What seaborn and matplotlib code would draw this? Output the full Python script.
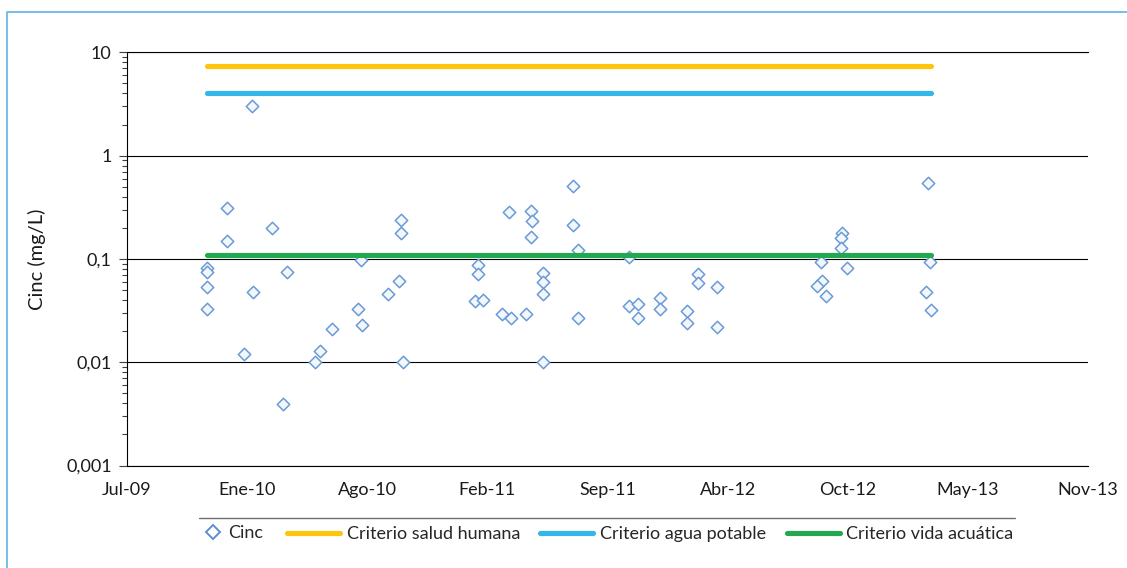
import numpy as np
import pandas as pd
import matplotlib
matplotlib.use("Agg")
import matplotlib.pyplot as plt
from matplotlib.lines import Line2D
from matplotlib.ticker import FixedLocator, FixedFormatter, LogLocator, NullFormatter
import seaborn as sns

# ---------------- data ----------------
fechas = [
    "2010-01-30", "2009-12-20", "2010-03-04", "2009-12-20", "2009-11-16", "2009-11-16",
    "2009-11-16", "2009-11-16", "2010-03-29", "2010-02-01", "2010-01-17", "2010-03-23",
    "2010-10-06", "2010-10-05", "2010-07-30", "2010-10-02", "2010-09-13", "2010-07-25",
    "2010-08-02", "2010-06-12", "2010-05-23", "2010-05-15", "2010-10-09",
    "2011-07-19", "2011-04-03", "2011-05-09", "2011-05-12", "2011-05-09", "2011-07-19",
    "2011-07-27", "2011-10-20", "2011-02-10", "2011-02-10", "2011-05-29", "2011-05-29",
    "2011-05-29", "2011-02-05", "2011-02-18", "2011-03-23", "2011-04-07", "2011-05-02",
    "2011-07-27", "2011-05-29", "2011-10-19", "2011-11-04", "2011-11-03", "2011-12-10",
    "2011-12-10", "2012-02-12", "2012-02-12", "2012-03-15", "2012-01-25", "2012-01-25",
    "2012-03-15", "2013-03-01", "2012-10-09", "2012-10-07", "2012-10-06", "2012-09-03",
    "2012-10-16", "2012-09-05", "2012-08-28", "2012-09-11", "2013-03-04", "2013-02-26",
    "2013-03-06",
]
cinc = [
    3.0, 0.31, 0.20, 0.15, 0.081, 0.074,
    0.054, 0.033, 0.074, 0.048, 0.012, 0.0039,
    0.24, 0.18, 0.097, 0.061, 0.046, 0.0325,
    0.023, 0.021, 0.0128, 0.010, 0.010,
    0.51, 0.285, 0.29, 0.233, 0.164, 0.213,
    0.121, 0.105, 0.087, 0.071, 0.073, 0.060,
    0.046, 0.0395, 0.040, 0.029, 0.027, 0.029,
    0.0266, 0.010, 0.035, 0.037, 0.0266, 0.042,
    0.033, 0.071, 0.059, 0.054, 0.031, 0.024,
    0.022, 0.54, 0.178, 0.158, 0.128, 0.093,
    0.081, 0.061, 0.055, 0.044, 0.093, 0.048,
    0.032,
]
criterio_salud_humana = 7.4
criterio_agua_potable = 4.0
criterio_vida_acuatica = 0.11

x_tick_fechas = ["2009-07-06", "2010-01-22", "2010-08-10", "2011-02-26", "2011-09-14",
                 "2012-04-01", "2012-10-18", "2013-05-06", "2013-11-22"]
x_tick_labels = ["Jul-09", "Ene-10", "Ago-10", "Feb-11", "Sep-11",
                 "Abr-12", "Oct-12", "May-13", "Nov-13"]
y_ticks = [0.001, 0.01, 0.1, 1, 10]
y_tick_labels = ["0,001", "0,01", "0,1", "1", "10"]

serie_labels = ["Cinc", "Criterio salud humana", "Criterio agua potable", "Criterio vida acuática"]
colores = {"Cinc": "#6A9BD6", "Criterio salud humana": "#FFC50A",
           "Criterio agua potable": "#33B7EA", "Criterio vida acuática": "#22A84F"}

# ---------------- figure ----------------
sns.set_theme(style="white")
plt.rcParams["font.family"] = ["Lato", "DejaVu Sans"]
FS = 13

W, H = 1127, 568
fig = plt.figure(figsize=(W / 100, H / 100), dpi=100)
L, R, T, B = 127, 1088, 52.3, 465.5
ax = fig.add_axes([L / W, 1 - B / H, (R - L) / W, (B - T) / H])

df = pd.DataFrame({"fecha": pd.to_datetime(fechas), "cinc": cinc})
sns.scatterplot(data=df, x="fecha", y="cinc", marker="D", s=40,
                color="#F3F6FB", edgecolor=colores["Cinc"], linewidth=1.1,
                ax=ax, zorder=3, legend=False)

linea_fechas = pd.Series(sorted(df["fecha"].unique()))
for nombre, valor in [("Criterio salud humana", criterio_salud_humana),
                      ("Criterio agua potable", criterio_agua_potable),
                      ("Criterio vida acuática", criterio_vida_acuatica)]:
    sns.lineplot(x=linea_fechas, y=[valor] * len(linea_fechas), estimator=None,
                 color=colores[nombre], linewidth=3.7, solid_capstyle="round",
                 ax=ax, zorder=4, legend=False)

ax.set_yscale("log")
ax.set_ylim(y_ticks[0], y_ticks[-1])
xt = pd.to_datetime(x_tick_fechas)
ax.set_xlim(xt[0], xt[-1])
ax.set_xticks(xt)
ax.set_xticklabels(x_tick_labels)
ax.yaxis.set_major_locator(FixedLocator(y_ticks))
ax.yaxis.set_major_formatter(FixedFormatter(y_tick_labels))
ax.yaxis.set_minor_locator(LogLocator(base=10, subs=np.arange(2, 10)))
ax.yaxis.set_minor_formatter(NullFormatter())

ax.set_xlabel("")
ax.set_ylabel("Cinc (mg/L)", fontsize=14.5, color="#1a1a1a")
ax.yaxis.set_label_coords(-0.084, 0.5)

ax.yaxis.grid(True, which="major", color="black", linewidth=0.8)
ax.xaxis.grid(False)
ax.set_axisbelow(True)

for s in ["left", "bottom", "top"]:
    ax.spines[s].set_color("black")
    ax.spines[s].set_linewidth(0.8)
ax.spines["right"].set_visible(False)

ax.tick_params(axis="y", which="major", direction="out", length=6, width=0.8,
               color="#404040", pad=5, labelsize=FS, labelcolor="#1a1a1a", left=True)
ax.tick_params(axis="y", which="minor", direction="out", length=3.6, width=0.8,
               color="#404040", left=True)
ax.tick_params(axis="x", length=0, pad=12, labelsize=FS, labelcolor="#1a1a1a")

# outer border (top & left visible) and legend top rule
def px(x, y):
    return x / W, 1 - y / H

fig.add_artist(Line2D([px(7, 0)[0], px(7, 0)[0], 1.0], [0.0, px(0, 12)[1], px(0, 12)[1]],
                      transform=fig.transFigure, color="#5BB5E5", linewidth=1.2))
fig.add_artist(Line2D([px(199, 0)[0], px(1015, 0)[0]], [px(0, 517.7)[1]] * 2,
                      transform=fig.transFigure, color="#707070", linewidth=1.0))

# legends
em = FS * 100 / 72
h_cinc = [Line2D([], [], linestyle="none", marker="D", markersize=7.5,
                 markerfacecolor="white", markeredgecolor="#5B8FD0", markeredgewidth=1.4)]
fig.legend(h_cinc, serie_labels[:1], loc="center left", bbox_to_anchor=px(204, 533),
           frameon=False, borderpad=0, borderaxespad=0, handlelength=1.0,
           handletextpad=(228 - 204 - em) / em, fontsize=FS)
h_lin = [Line2D([], [], color=colores[n], linewidth=3.7, solid_capstyle="round")
         for n in serie_labels[1:]]
fig.legend(h_lin, serie_labels[1:], loc="center left", bbox_to_anchor=px(287, 534),
           frameon=False, borderpad=0, borderaxespad=0, handlelength=53 / em,
           handletextpad=7 / em, columnspacing=20 / em, ncol=3, fontsize=FS)

fig.savefig("out.png", dpi=100)
